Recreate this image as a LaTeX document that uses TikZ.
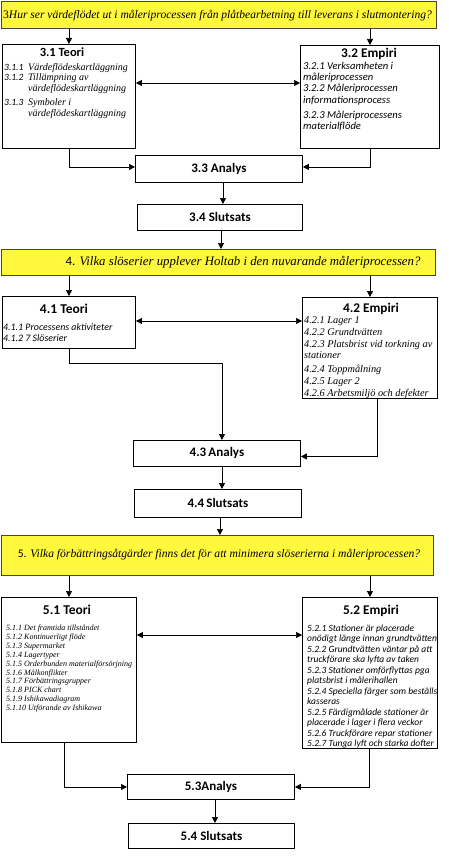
\documentclass[tikz,border=0pt]{standalone}
\usepackage{fontspec}
\setmainfont{Liberation Serif}
\newfontfamily\cfont{Carlito}
\usetikzlibrary{arrows.meta,calc}
\definecolor{qyellow}{RGB}{255,248,60}
\definecolor{qborder}{RGB}{70,70,50}
\tikzset{
  box/.style={draw=black,line width=0.9pt,fill=white,inner sep=0pt,anchor=north west},
  qbox/.style={draw=qborder,line width=1pt,fill=qyellow,inner sep=0pt,anchor=north west},
  arr/.style={line width=0.7pt,-{Triangle[length=6pt,width=6pt]}},
  darr/.style={line width=0.7pt,{Triangle[length=6pt,width=6pt]}-{Triangle[length=6pt,width=6pt]}},
  hdr/.style={font=\cfont\bfseries\fontsize{#1}{#1}\selectfont,inner sep=0pt},
  shdr/.style={font=\cfont\bfseries\fontsize{13}{15}\selectfont,inner sep=0pt},
  ci/.style={font=\cfont\itshape\fontsize{#1}{#1}\selectfont,inner sep=0pt,anchor=base west},
  si/.style={font=\itshape\fontsize{#1}{#1}\selectfont,inner sep=0pt,anchor=base west},
  qt/.style={font=\fontsize{#1}{#1}\selectfont,inner sep=0pt},
}
\begin{document}
\begin{tikzpicture}[x=1pt,y=-1pt]
\useasboundingbox[fill=white] (0,0) rectangle (448,864);
% ---------- Section 3 ----------
\node[qbox,minimum width=435pt,minimum height=27pt] (q3) at (1,1) {};
\node[qt=11.55,anchor=base west] (q3t) at (3,19) {3\textit{Hur ser värdeflödet ut i måleriprocessen från plåtbearbetning till leverans i slutmontering?}};
\node[box,minimum width=133pt,minimum height=104pt] (t31) at (2,44) {};
\node[box,minimum width=139pt,minimum height=103pt] (e32) at (300,45) {};
\node[hdr=12.5] (t31h) at (62,52) {3.1 Teori};
\node[hdr=13.3] (e32h) at (369,54) {3.2 Empiri};
\node[ci=9.5] (n311) at (4,71) {3.1.1};
\node[si=10] (x311) at (28,71) {Värdeflödeskartläggning};
\node[ci=9.5] (n312) at (4,81) {3.1.2};
\node[si=10] (x312) at (28,81) {Tillämpning av};
\node[si=10] (x312b) at (28,92) {värdeflödeskartläggning};
\node[ci=9.5] (n313) at (4,106) {3.1.3};
\node[si=10] (x313) at (28,106) {Symboler i};
\node[si=10] (x313b) at (28,117) {värdeflödeskartläggning};
\node[ci=10.6] (e1) at (303,70) {3.2.1 Verksamheten i};
\node[ci=10.6] (e2) at (303,81) {måleriprocessen};
\node[ci=10.6] (e3) at (303,92) {3.2.2 Måleriprocessen};
\node[ci=10.6] (e4) at (303,103.5) {informationsprocess};
\node[ci=10.6] (e5) at (303,118.5) {3.2.3 Måleriprocessens};
\node[ci=10.6] (e6) at (303,129.5) {materialflöde};
\node[box,minimum width=167pt,minimum height=27pt] (a33) at (135,155) {};
\node[shdr] at (a33.center) {3.3 Analys};
\node[box,minimum width=165pt,minimum height=26pt] (s34) at (137,204) {};
\node[shdr] at (s34.center) {3.4 Slutsats};
\draw[arr] (t31.north |- q3.south) -- (t31.north);
\draw[arr] (e32.north |- q3.south) -- (e32.north);
\draw[darr] ([yshift=-39pt]t31.north east) -- ([yshift=-38pt]e32.north west);
\draw[arr] (t31.south) |- ([yshift=2pt]a33.west);
\draw[arr] (e32.south) |- ([yshift=2pt]a33.east);
\draw[arr] ([xshift=4pt]a33.south) -- ([xshift=4pt]a33.south |- s34.north);
% ---------- Section 4 ----------
\node[qbox,minimum width=434pt,minimum height=26pt] (q4) at (1,249) {};
\node[qt=12.8] (q4t) at (243,262) {{\cfont 4.} \textit{Vilka slöserier upplever Holtab i den nuvarande måleriprocessen?}};
\draw[arr] ([xshift=1pt]s34.south) -- ([xshift=1pt]s34.south |- q4.north);
\node[box,minimum width=133pt,minimum height=52pt] (t41) at (2,296) {};
\node[box,minimum width=135pt,minimum height=101pt] (e42) at (302,297) {};
\node[hdr=13.5] (t41h) at (64,309) {4.1 Teori};
\node[hdr=13.3] (e42h) at (371,308.5) {4.2 Empiri};
\node[ci=9.9] (f1) at (3,330) {4.1.1 Processens aktiviteter};
\node[ci=9.9] (f2) at (3,341) {4.1.2 7 Slöserier};
\node[si=10.3] (g1) at (304,323.5) {4.2.1 Lager 1};
\node[si=10.3] (g2) at (304,335) {4.2.2 Grundtvätten};
\node[si=10.3] (g3) at (304,347) {4.2.3 Platsbrist vid torkning av};
\node[si=10.3] (g4) at (304,358.5) {stationer};
\node[si=10.3] (g5) at (304,372) {4.2.4 Toppmålning};
\node[si=10.3] (g6) at (304,384) {4.2.5 Lager 2};
\node[si=10.3] (g7) at (304,396) {4.2.6 Arbetsmiljö och defekter};
\node[box,minimum width=167pt,minimum height=26pt] (a43) at (133,440) {};
\node[shdr] at (a43.center) {4.3\,Analys};
\node[box,minimum width=167pt,minimum height=28pt] (s44) at (134,489) {};
\node[shdr] at (s44.center) {4.4\,Slutsats};
\draw[arr] (t41.north |- q4.south) -- (t41.north);
\draw[arr] (e42.north |- q4.south) -- (e42.north);
\draw[darr] ([yshift=-25pt]t41.north east) -- ([yshift=-24pt]e42.north west);
\coordinate (c41) at ([yshift=-14pt]t41.south);
\draw[arr] (t41.south) -- (c41) -| ([xshift=5pt]a43.north);
\draw[arr] ([xshift=7pt]e42.south) |- ([yshift=-3pt]a43.east);
\draw[arr] ([xshift=5pt]a43.south) -- ([xshift=5pt]a43.south |- s44.north);
% ---------- Section 5 ----------
\node[qbox,minimum width=432pt,minimum height=40pt] (q5) at (1,535) {};
\node[qt=11.6] (q5t) at (219,555) {{\cfont 5.} \textit{Vilka förbättringsåtgärder finns det för att minimera slöserierna i måleriprocessen?}};
\draw[arr] ([xshift=2pt]s44.south) -- ([xshift=2pt]s44.south |- q5.north);
\node[box,minimum width=135pt,minimum height=145pt] (t51) at (1,597) {};
\node[box,minimum width=135pt,minimum height=151pt] (e52) at (302,597) {};
\node[hdr=13.5] (t51h) at (67,610) {5.1 Teori};
\node[hdr=13.3] (e52h) at (371,611) {5.2 Empiri};
\node[si=8] (h1) at (6,630.5) {5.1.1 Det framtida tillståndet};
\node[si=8] (h2) at (6,639.4) {5.1.2 Kontinuerligt flöde};
\node[si=8] (h3) at (6,648.3) {5.1.3 Supermarket};
\node[si=8] (h4) at (6,657.2) {5.1.4 Lagertyper};
\node[si=8] (h5) at (6,666.1) {5.1.5 Orderbunden materialförsörjning};
\node[si=8] (h6) at (6,675) {5.1.6 Målkonflikter};
\node[si=8] (h7) at (6,683.9) {5.1.7 Förbättringsgrupper};
\node[si=8] (h8) at (6,692.8) {5.1.8 PICK chart};
\node[si=8] (h9) at (6,701.7) {5.1.9 Ishikawadiagram};
\node[si=8] (h10) at (6,710.6) {5.1.10 Utförande av Ishikawa};
\node[ci=9.5] (k1) at (307,631) {5.2.1 Stationer är placerade};
\node[ci=9.5] (k2) at (307,641.5) {onödigt länge innan grundtvätten};
\node[ci=9.5] (k3) at (307,652) {5.2.2 Grundtvätten väntar på att};
\node[ci=9.5] (k4) at (307,662.5) {truckförare ska lyfta av taken};
\node[ci=9.5] (k5) at (307,673) {5.2.3 Stationer omförflyttas pga};
\node[ci=9.5] (k6) at (307,683.5) {platsbrist i målerihallen};
\node[ci=9.5] (k7) at (307,694) {5.2.4 Speciella färger som beställs};
\node[ci=9.5] (k8) at (307,704.5) {kasseras};
\node[ci=9.5] (k9) at (307,715) {5.2.5 Färdigmålade stationer är};
\node[ci=9.5] (k10) at (307,725.5) {placerade i lager i flera veckor};
\node[ci=9.5] (k11) at (307,736) {5.2.6 Truckförare repar stationer};
\node[ci=9.5] (k12) at (307,746.5) {5.2.7 Tunga lyft och starka dofter};
\node[box,minimum width=167pt,minimum height=25pt] (a53) at (127,774) {};
\node[shdr] at (a53.center) {5.3Analys};
\node[box,minimum width=166pt,minimum height=25pt] (s54) at (128,823) {};
\node[shdr] at (s54.center) {5.4 Slutsats};
\draw[arr] (t51.north |- q5.south) -- (t51.north);
\draw[arr] (e52.north |- q5.south) -- (e52.north);
\draw[darr] ([yshift=-38pt]t51.north east) -- ([yshift=-38pt]e52.north west);
\draw[arr] ([xshift=-5pt]t51.south) |- (a53.west);
\draw[arr] ([xshift=-1pt]e52.south) |- (a53.east);
\draw[arr] ([xshift=4pt]a53.south) -- ([xshift=4pt]a53.south |- s54.north);
\end{tikzpicture}
\end{document}
